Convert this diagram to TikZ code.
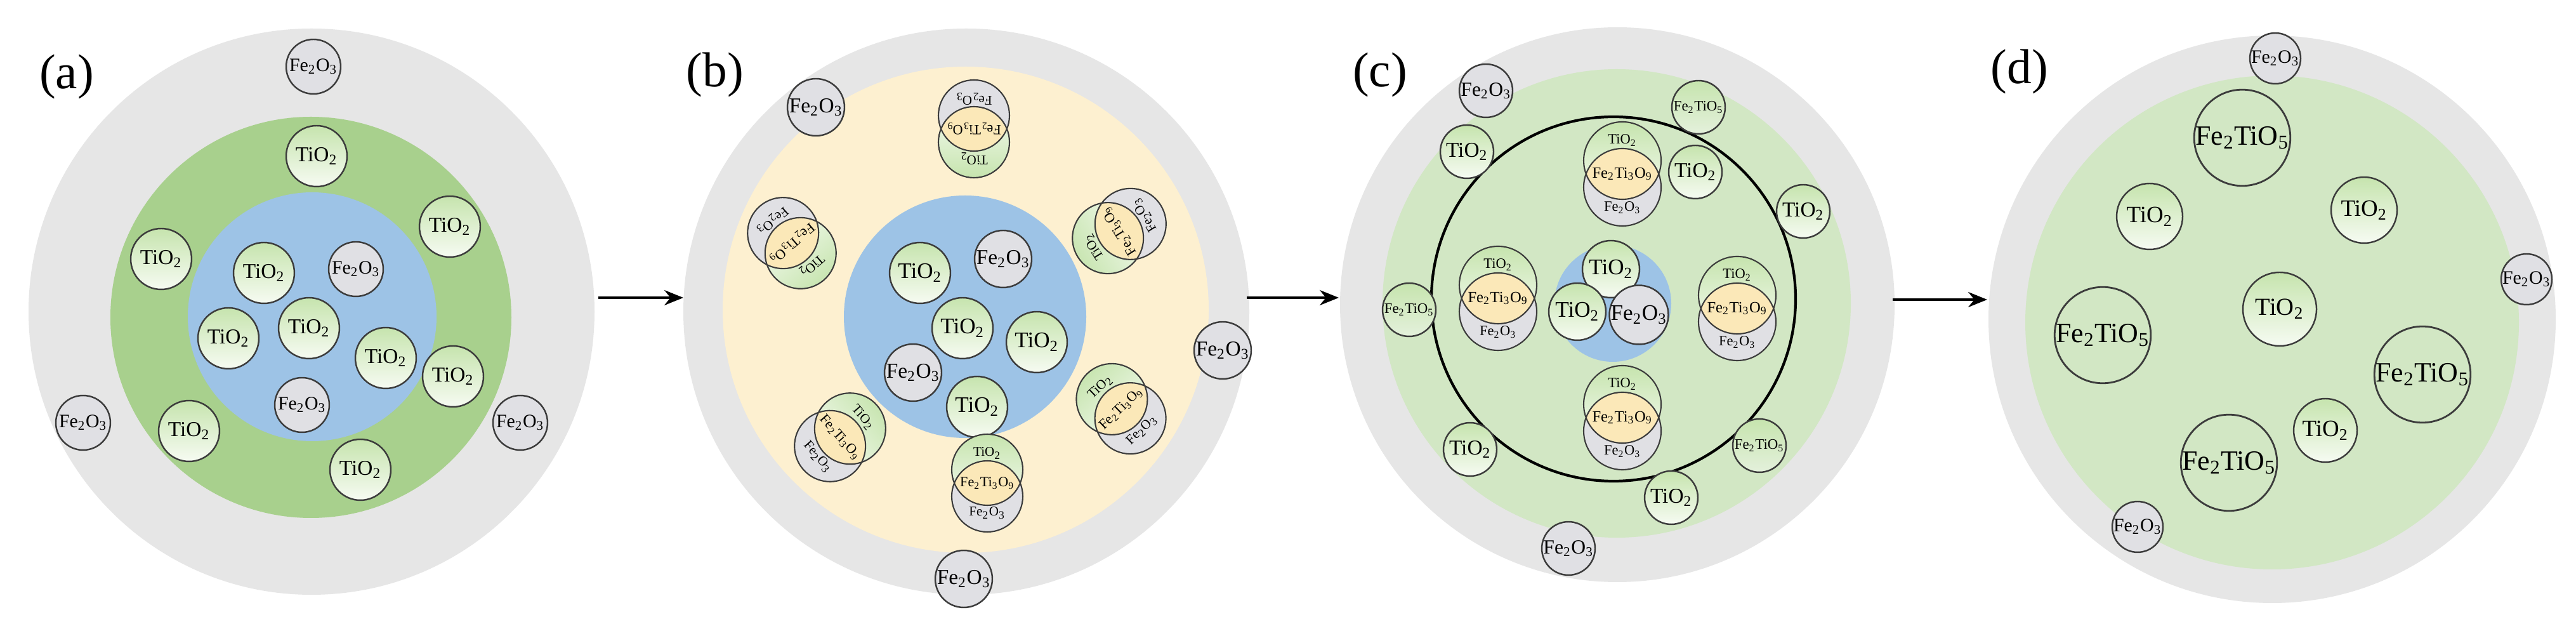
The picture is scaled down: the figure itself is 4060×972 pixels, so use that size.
\documentclass[tikz,border=0pt]{standalone}
\usepackage{fontspec}
\setmainfont{Liberation Serif}
\usetikzlibrary{arrows.meta}
\definecolor{outg}{HTML}{E6E6E6}
\definecolor{greenA}{HTML}{A8D08D}
\definecolor{blueA}{HTML}{9DC3E6}
\definecolor{yelB}{HTML}{FDF0D0}
\definecolor{lgreen}{HTML}{D2E7C4}
\definecolor{tiTop}{HTML}{C6E4AE}
\definecolor{tiBot}{HTML}{F6FBF2}
\definecolor{feC}{HTML}{E0E0E4}
\definecolor{lensC}{HTML}{FBE8B8}
\definecolor{lineC}{HTML}{3C3C3C}
\newcommand\tio{TiO\textsubscript{2}}
\newcommand\feo{Fe\textsubscript{2}O\textsubscript{3}}
\newcommand\fto{Fe\textsubscript{2}TiO\textsubscript{5}}
\newcommand\fttn{Fe\textsubscript{2}Ti\textsubscript{3}O\textsubscript{9}}
\tikzset{
 part/.style={circle,draw=lineC,line width=0.7pt,inner sep=0pt,text=black},
 ti/.style={part,top color=tiTop,bottom color=tiBot},
 fe/.style={part,fill=feC},
 ftc/.style={part,top color=tiTop,bottom color=lgreen!60!white},
 ftd/.style={part,line width=0.8pt},
 lbl/.style={font=\fontsize{22}{24}\selectfont},
 arr/.style={line width=1pt,-{Stealth[length=3mm,width=2.4mm]}},
 pl/.style={draw=lineC,line width=0.6pt}
}
% \pp{name}{x}{y}{r}{style}{font size}{text}
\newcommand\pp[7]{\node[#5,minimum size=#4*0.2mm,font=\fontsize{#6}{#6}\selectfont] (#1) at (#2,#3) {#7};}
% \comp{x}{y}{angle}{r}{d}{small size}{lens size}{label offset}
\newcommand\comp[8]{%
 \begin{scope}[shift={(#1,#2)},rotate=#3]
  \fill[top color=tiTop,bottom color=tiBot,shading angle=#3] (0,#5) circle (#4);
  \fill[feC] (0,-#5) circle (#4);
  \begin{scope}\clip (0,#5) circle (#4); \fill[lensC] (0,-#5) circle (#4);\end{scope}
  \draw[pl] (0,#5) circle (#4) (0,-#5) circle (#4);
  \node[rotate=#3,font=\fontsize{#6}{#6}\selectfont,inner sep=0pt] at (0,#8) {\tio};
  \node[rotate=#3,font=\fontsize{#7}{#7}\selectfont,inner sep=0pt] at (0,0) {\fttn};
  \node[rotate=#3,font=\fontsize{#6}{#6}\selectfont,inner sep=0pt] at (0,-#8) {\feo};
 \end{scope}}
\begin{document}
\begin{tikzpicture}[x=0.1mm,y=0.1mm]
\useasboundingbox (0,0) rectangle (4060,972);
\fill[white] (0,0) rectangle (4060,972);
% ---------- (a)
\node[lbl] (la) at (105,851) {(a)};
\node[circle,fill=outg,minimum size=892*0.1mm,inner sep=0pt] (ga) at (491,481) {};
\node[circle,fill=greenA,minimum size=632*0.1mm,inner sep=0pt] (gra) at (490,472) {};
\node[circle,fill=blueA,minimum size=392*0.1mm,inner sep=0pt] (bla) at (492,473) {};
\pp{a1}{494}{867}{43}{fe}{8.5}{\feo}
\pp{a2}{499}{726}{48}{ti}{9.5}{\tio}
\pp{a3}{709}{615}{48}{ti}{9.5}{\tio}
\pp{a4}{254}{564}{48}{ti}{9.5}{\tio}
\pp{a5}{416}{542}{48}{ti}{9.5}{\tio}
\pp{a6}{561}{548}{43}{fe}{8.5}{\feo}
\pp{a7}{360}{439}{48}{ti}{9.5}{\tio}
\pp{a8}{487}{455}{48}{ti}{9.5}{\tio}
\pp{a9}{608}{408}{48}{ti}{9.5}{\tio}
\pp{a10}{714}{379}{48}{ti}{9.5}{\tio}
\pp{a11}{476}{334}{43}{fe}{8.5}{\feo}
\pp{a12}{131}{306}{43}{fe}{8.5}{\feo}
\pp{a13}{298}{293}{48}{ti}{9.5}{\tio}
\pp{a14}{820}{306}{43}{fe}{8.5}{\feo}
\pp{a15}{568}{232}{48}{ti}{9.5}{\tio}
% ---------- (b)
\node[lbl] (lb) at (1127,854) {(b)};
\node[circle,fill=outg,minimum size=892*0.1mm,inner sep=0pt] (gb) at (1523,481) {};
\node[circle,fill=yelB,minimum size=766*0.1mm,inner sep=0pt] (yb) at (1522,484) {};
\node[circle,fill=blueA,minimum size=382*0.1mm,inner sep=0pt] (blb) at (1521,473) {};
\pp{b1}{1450}{542}{48}{ti}{10}{\tio}
\pp{b2}{1581}{564}{45}{fe}{9.5}{\feo}
\pp{b3}{1517}{455}{48}{ti}{10}{\tio}
\pp{b4}{1634}{433}{48}{ti}{10}{\tio}
\pp{b5}{1439}{385}{45}{fe}{9.5}{\feo}
\pp{b6}{1540}{331}{48}{ti}{10}{\tio}
\pp{b7}{1286}{803}{45}{fe}{9.5}{\feo}
\pp{b8}{1927}{420}{45}{fe}{9.5}{\feo}
\pp{b9}{1519}{60}{45}{fe}{9.5}{\feo}
\comp{1535}{769}{180}{56}{21}{6}{6.3}{47}
\comp{1248}{589}{221}{56}{21}{6}{6.3}{47}
\comp{1764}{608}{122}{56}{21}{6}{6.3}{47}
\comp{1767}{328}{44}{56}{21}{6}{6.3}{47}
\comp{1324}{283}{-49}{56}{21}{6}{6.3}{47}
\comp{1556}{211}{0}{56}{21}{6}{6.3}{47}
% ---------- (c)
\node[lbl] (lc) at (2175,854) {(c)};
\node[circle,fill=outg,minimum size=874*0.1mm,inner sep=0pt] (gc) at (2549,492) {};
\node[circle,fill=lgreen,minimum size=738*0.1mm,inner sep=0pt] (grc) at (2548,494) {};
\node[circle,draw=black,line width=1.2pt,minimum size=574*0.1mm,inner sep=0pt] (rc) at (2543,501) {};
\node[circle,fill=blueA,minimum size=184*0.1mm,inner sep=0pt] (blc) at (2542,494) {};
\pp{c1}{2539}{548}{45}{ti}{10}{\tio}
\pp{c2}{2486}{481}{45}{ti}{10}{\tio}
\pp{c3}{2583}{476}{45}{fe}{10}{\feo}
\comp{2557}{698}{0}{61}{21}{6.4}{7}{53}
\comp{2361}{502}{0}{61}{21}{6.4}{7}{53}
\comp{2738}{486}{0}{61}{21}{6.4}{7}{53}
\comp{2557}{314}{0}{61}{21}{6.4}{7}{53}
\pp{c4}{2342}{829}{42}{fe}{9}{\feo}
\pp{c5}{2677}{803}{42}{ftc}{6.5}{\fto}
\pp{c6}{2312}{733}{42}{ti}{9.5}{\tio}
\pp{c7}{2672}{701}{42}{ti}{9.5}{\tio}
\pp{c8}{2842}{639}{42}{ti}{9.5}{\tio}
\pp{c9}{2221}{484}{42}{ftc}{6.5}{\fto}
\pp{c10}{2317}{264}{42}{ti}{9.5}{\tio}
\pp{c11}{2773}{270}{42}{ftc}{6.5}{\fto}
\pp{c12}{2634}{188}{42}{ti}{9.5}{\tio}
\pp{c13}{2472}{108}{42}{fe}{9}{\feo}
% ---------- (d)
\node[lbl] (ld) at (3183,859) {(d)};
\node[circle,fill=outg,minimum size=894*0.1mm,inner sep=0pt] (gd) at (3581,469) {};
\node[circle,fill=lgreen,minimum size=778*0.1mm,inner sep=0pt] (grd) at (3581,464) {};
\pp{d1}{3586}{880}{40}{fe}{8.5}{\feo}
\pp{d2}{3534}{755}{75}{ftd}{12.5}{\fto}
\pp{d3}{3388}{631}{52}{ti}{10.5}{\tio}
\pp{d4}{3726}{641}{52}{ti}{10.5}{\tio}
\pp{d5}{3982}{532}{40}{fe}{8.5}{\feo}
\pp{d6}{3593}{485}{58}{ti}{11}{\tio}
\pp{d7}{3314}{444}{75}{ftd}{12.5}{\fto}
\pp{d8}{3818}{382}{75}{ftd}{12.5}{\fto}
\pp{d9}{3665}{294}{50}{ti}{10.5}{\tio}
\pp{d10}{3513}{243}{75}{ftd}{12.5}{\fto}
\pp{d11}{3369}{142}{40}{fe}{8.5}{\feo}
% ---------- arrows
\coordinate (ab1) at (943,503); \coordinate (ab2) at (1077,503);
\coordinate (bc1) at (1965,503); \coordinate (bc2) at (2110,503);
\coordinate (cd1) at (2983,500); \coordinate (cd2) at (3132,500);
\draw[arr] (ab1) -- (ab2);
\draw[arr] (bc1) -- (bc2);
\draw[arr] (cd1) -- (cd2);
\end{tikzpicture}
\end{document}
